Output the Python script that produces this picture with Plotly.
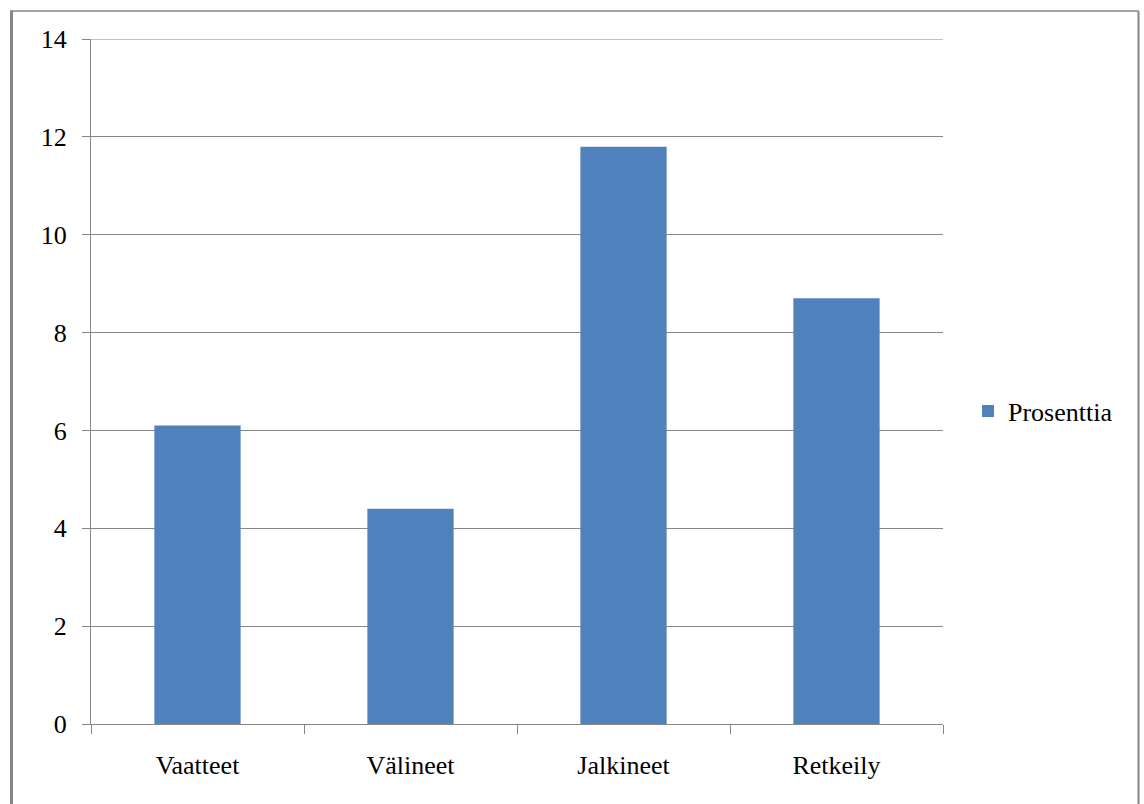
import plotly.graph_objects as go

# Share of purchases by product group
categories = ["Vaatteet", "Välineet", "Jalkineet", "Retkeily"]
prosenttia = [6.1, 4.4, 11.8, 8.7]
y_ticks = [0, 2, 4, 6, 8, 10, 12, 14]

W, H = 1144, 804
L, R, T, B = 91, 201, 39, 80
plot_w = W - L - R
plot_h = H - T - B


def px_x(x):
    return (x - L) / plot_w


def px_y(y):
    return (H - B - y) / plot_h


grey = "#868686"
font = dict(family="Liberation Serif, Times New Roman, serif", size=26, color="#000000")

fig = go.Figure(
    go.Bar(
        x=categories,
        y=prosenttia,
        name="Prosenttia",
        marker=dict(color="#4F81BD", line=dict(width=0)),
        width=0.405,
        showlegend=True,
    )
)

fig.update_layout(
    width=W,
    height=H,
    margin=dict(l=L, r=R, t=T, b=B, pad=0),
    paper_bgcolor="white",
    plot_bgcolor="white",
    font=font,
    showlegend=True,
    legend=dict(
        x=px_x(968),
        y=px_y(411),
        xanchor="left",
        yanchor="middle",
        font=dict(family=font["family"], size=26, color="#000000"),
        itemwidth=30,
        bgcolor="rgba(0,0,0,0)",
    ),
    bargap=0.6,
)

fig.update_yaxes(
    range=[0, 14],
    tickvals=y_ticks,
    ticktext=[str(v) for v in y_ticks],
    showgrid=True,
    gridcolor=grey,
    gridwidth=1,
    showline=True,
    linecolor=grey,
    linewidth=1,
    ticks="outside",
    ticklen=8,
    tickcolor=grey,
    ticklabelstandoff=10,
    zeroline=False,
    fixedrange=True,
)

fig.update_xaxes(
    type="category",
    showgrid=False,
    showline=True,
    linecolor=grey,
    linewidth=1,
    ticks="outside",
    tickson="boundaries",
    ticklen=9,
    tickcolor=grey,
    ticklabelstandoff=18,
    fixedrange=True,
)

# Top gridline at the upper end of the value range
fig.add_shape(
    type="line", xref="paper", yref="y",
    x0=0, x1=1, y0=y_ticks[-1], y1=y_ticks[-1],
    line=dict(color=grey, width=1), layer="above",
)

# Chart frame around the whole figure
frame = [
    dict(x0=px_x(11.5), x1=px_x(11.5), y0=px_y(11), y1=px_y(810), w=3),
    dict(x0=px_x(10), x1=px_x(1138.5), y0=px_y(11), y1=px_y(11), w=1.5),
    dict(x0=px_x(1138.5), x1=px_x(1138.5), y0=px_y(11), y1=px_y(810), w=2),
]
for f in frame:
    fig.add_shape(
        type="line",
        xref="paper",
        yref="paper",
        x0=f["x0"],
        x1=f["x1"],
        y0=f["y0"],
        y1=f["y1"],
        line=dict(color=grey, width=f["w"]),
        layer="above",
    )

fig.write_html("out.html")
